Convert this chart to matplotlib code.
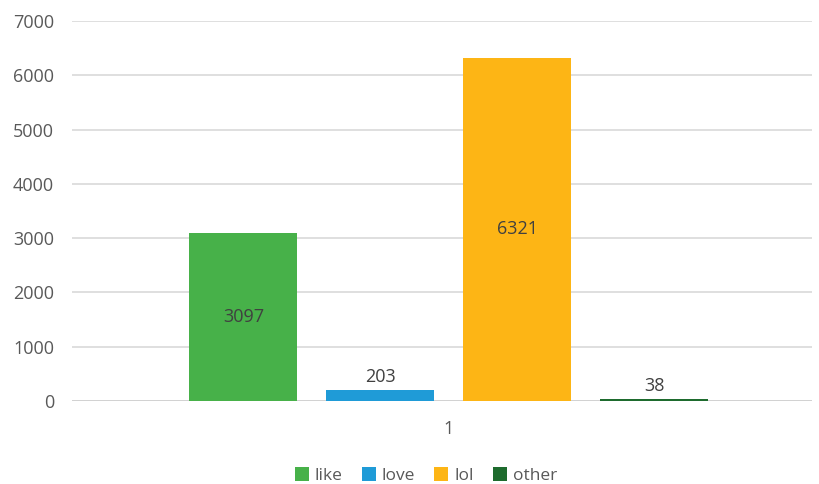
import numpy as np
import matplotlib.pyplot as plt

categories = ['1']
series = ['like', 'love', 'lol', 'other']
values = [3097, 203, 6321, 38]
colors = ['#47B149', '#1F9BD7', '#FDB515', '#1E6B2E']
yticks = [0, 1000, 2000, 3000, 4000, 5000, 6000, 7000]

plt.rcParams['font.family'] = ['Open Sans', 'DejaVu Sans']
text_color = '#595959'

fig = plt.figure(figsize=(8.19, 4.84), dpi=100)
ax = fig.add_axes([0.088, 0.1715, 0.9035, 0.7851])

step = 0.185
width = 0.146
offsets = (np.arange(len(series)) - 1.5) * step
for off, name, val, col in zip(offsets, series, values, colors):
    ax.bar(off, val, width=width, color=col, label=name, zorder=3)
    if val > 1000:
        ax.text(off, val / 2, str(val), ha='center', va='center', fontsize=13, color='#404040', zorder=4)
    else:
        ax.annotate(str(val), (off, val), xytext=(0, 3), textcoords='offset points',
                    ha='center', va='bottom', fontsize=13, color='#404040', zorder=4)

ax.set_xlim(-0.509, 0.491)
ax.set_ylim(0, 7000)
ax.set_yticks(yticks)
ax.set_xticks([0])
ax.set_xticklabels(categories)
ax.grid(axis='y', color='#D9D9D9', linewidth=1.2, zorder=0)
for s in ax.spines.values():
    s.set_visible(False)
ax.axhline(0, color='#D0D0D0', linewidth=1.2, zorder=2)
ax.tick_params(axis='both', length=0, labelsize=13, colors=text_color)
ax.tick_params(axis='y', pad=13)
ax.tick_params(axis='x', pad=14)

fig.legend(loc='center', bbox_to_anchor=(0.52, 0.017), ncol=4, frameon=False,
           fontsize=12.5, handlelength=0.8, handleheight=0.8, handletextpad=0.35,
           columnspacing=1.1, labelcolor=text_color)

fig.savefig('out.png', dpi=100)
